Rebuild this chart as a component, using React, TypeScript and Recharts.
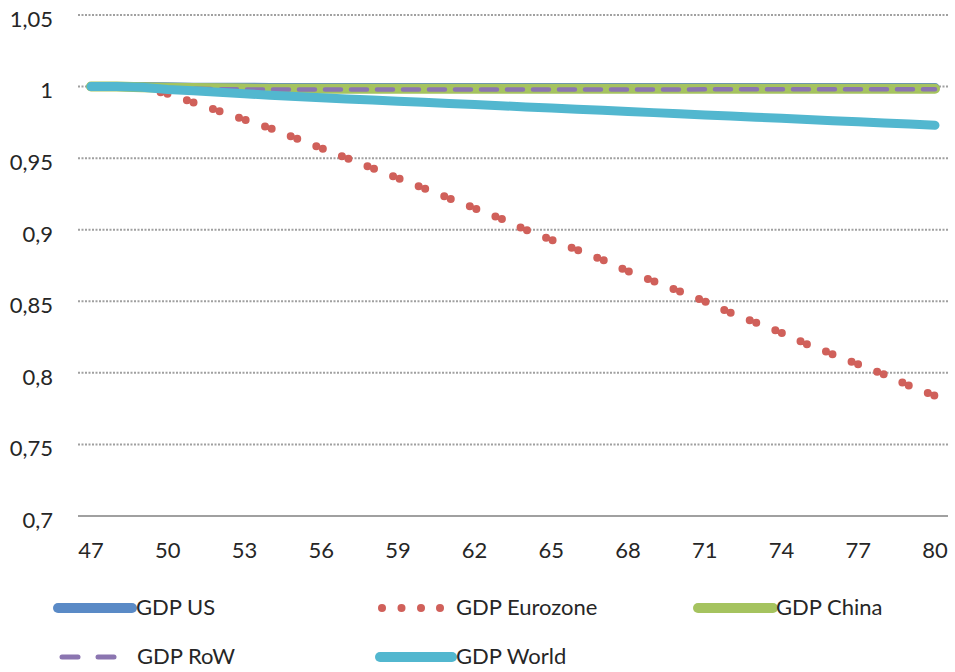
import { LineChart, Line, XAxis, YAxis, CartesianGrid } from 'recharts';

const FONT = 'Lato, "Open Sans", sans-serif';

const years = [
  47, 48, 49, 50, 51, 52, 53, 54, 55, 56, 57, 58, 59, 60, 61, 62, 63,
  64, 65, 66, 67, 68, 69, 70, 71, 72, 73, 74, 75, 76, 77, 78, 79, 80,
];

const gdpUS = [
  1, 1, 1, 0.9998, 0.9996, 0.9995, 0.9995, 0.9994, 0.9994, 0.9994, 0.9994, 0.9994,
  0.9994, 0.9994, 0.9994, 0.9994, 0.9994, 0.9994, 0.9994, 0.9994, 0.9994, 0.9994,
  0.9994, 0.9994, 0.9994, 0.9994, 0.9994, 0.9994, 0.9994, 0.9994, 0.9994, 0.9994,
  0.9994, 0.9994,
];

const gdpEurozone = [
  1, 1, 0.999, 0.995, 0.989, 0.983, 0.977, 0.971, 0.964, 0.957, 0.95, 0.943,
  0.936, 0.929, 0.922, 0.915, 0.908, 0.9, 0.893, 0.886, 0.879, 0.871, 0.864,
  0.857, 0.85, 0.842, 0.835, 0.828, 0.82, 0.813, 0.806, 0.799, 0.791, 0.784,
];

const gdpChina = [
  1, 1, 0.9995, 0.9992, 0.999, 0.9988, 0.9986, 0.9985, 0.9985, 0.9985, 0.9985,
  0.9985, 0.9985, 0.9985, 0.9985, 0.9985, 0.9985, 0.9985, 0.9985, 0.9985, 0.9985,
  0.9985, 0.9985, 0.9985, 0.9985, 0.9985, 0.9985, 0.9985, 0.9985, 0.9985, 0.9985,
  0.9985, 0.9985, 0.9985,
];

const gdpRoW = [
  1, 1, 0.9995, 0.999, 0.9985, 0.9982, 0.998, 0.998, 0.998, 0.998, 0.998, 0.998,
  0.998, 0.998, 0.998, 0.998, 0.998, 0.998, 0.998, 0.998, 0.998, 0.998, 0.998,
  0.998, 0.9981, 0.9981, 0.9981, 0.9981, 0.9982, 0.9982, 0.9982, 0.9982, 0.9982,
  0.9982,
];

const gdpWorld = [
  1, 1, 0.9995, 0.998, 0.997, 0.996, 0.995, 0.994, 0.993, 0.9922, 0.9914, 0.9906,
  0.9898, 0.989, 0.9882, 0.9874, 0.9866, 0.9858, 0.985, 0.9842, 0.9834, 0.9826,
  0.9818, 0.981, 0.9802, 0.9794, 0.9786, 0.9778, 0.977, 0.9762, 0.9754, 0.9746,
  0.9738, 0.973,
];

const yTicks = [0.7, 0.75, 0.8, 0.85, 0.9, 0.95, 1, 1.05];

const data = years.map((year, i) => ({
  year,
  us: gdpUS[i],
  eurozone: gdpEurozone[i],
  china: gdpChina[i],
  row: gdpRoW[i],
  world: gdpWorld[i],
}));

const fmt = (v: number) => String(Number(v.toFixed(2))).replace('.', ',');

const textStyle = { fontFamily: FONT, fontSize: 22, color: '#262626', lineHeight: '24px' };

function LineIcon({ color, w }: { color: string; w: number }) {
  return (
    <svg width={w} height={14} style={{ display: 'block' }}>
      <line x1={5} y1={7} x2={w - 5} y2={7} stroke={color} strokeWidth={10} strokeLinecap="round" />
    </svg>
  );
}

function DotsIcon() {
  return (
    <svg width={66} height={14} style={{ display: 'block' }}>
      {[4, 23.5, 43, 62].map((cx) => (
        <circle key={cx} cx={cx} cy={7} r={4} fill="#d0605a" />
      ))}
    </svg>
  );
}

function DashIcon() {
  return (
    <svg width={60} height={14} style={{ display: 'block' }}>
      <line x1={4} y1={7} x2={20} y2={7} stroke="#8b75b0" strokeWidth={5} strokeLinecap="round" />
      <line x1={40} y1={7} x2={56} y2={7} stroke="#8b75b0" strokeWidth={5} strokeLinecap="round" />
    </svg>
  );
}

function CustomLegend() {
  const item = (left: number, top: number, icon: React.ReactNode, label: string, textLeft: number) => (
    <div key={label}>
      <div style={{ position: 'absolute', left, top: top - 7 }}>{icon}</div>
      <div style={{ ...textStyle, position: 'absolute', left: textLeft, top: top - 13, whiteSpace: 'nowrap' }}>
        {label}
      </div>
    </div>
  );
  return (
    <div style={{ position: 'absolute', left: 0, top: 585, width: 955, height: 87 }}>
      {item(53, 23, <LineIcon color="#5a8ac6" w={84} />, 'GDP US', 136)}
      {item(378, 23, <DotsIcon />, 'GDP Eurozone', 456)}
      {item(693, 23, <LineIcon color="#a5c35f" w={85} />, 'GDP China', 776)}
      {item(58, 72, <DashIcon />, 'GDP RoW', 137)}
      {item(375, 72, <LineIcon color="#52b7cf" w={82} />, 'GDP World', 456)}
    </div>
  );
}

export default function App() {
  return (
    <div style={{ position: 'absolute', left: 0, top: 0, width: 955, height: 672, background: '#fff' }}>
      <LineChart width={955} height={672} data={data} margin={{ top: 15, right: 7, bottom: 76, left: 0 }}>
        <CartesianGrid vertical={false} stroke="#a0a0a0" strokeWidth={2} strokeDasharray="2 1.5" />
        <XAxis
          dataKey="year"
          interval={2}
          padding={{ left: 13, right: 13 }}
          axisLine={{ stroke: '#a0a0a0', strokeWidth: 2 }}
          tickLine={false}
          tickSize={0}
          tickMargin={26}
          height={80}
          tick={{ fill: '#262626', fontSize: 22, fontFamily: FONT }}
        />
        <YAxis
          domain={[0.7, 1.05]}
          ticks={yTicks}
          tickFormatter={fmt}
          axisLine={false}
          tickLine={false}
          tickSize={0}
          tickMargin={25}
          width={78}
          tick={{ fill: '#262626', fontSize: 22, fontFamily: FONT, dy: 4 }}
        />
        <Line type="linear" dataKey="us" stroke="#5a8ac6" strokeWidth={9} strokeLinecap="round" strokeLinejoin="round" dot={false} isAnimationActive={false} />
        <Line type="linear" dataKey="eurozone" stroke="#d0605a" strokeWidth={8} strokeLinecap="round" strokeDasharray="0 7 0 20.48" strokeDashoffset={12.3} dot={false} isAnimationActive={false} />
        <Line type="linear" dataKey="china" stroke="#a5c35f" strokeWidth={10} strokeLinecap="round" strokeLinejoin="round" dot={false} isAnimationActive={false} />
        <Line type="linear" dataKey="row" stroke="#8b75b0" strokeWidth={4.5} strokeLinecap="round" strokeDasharray="16 10" dot={false} isAnimationActive={false} />
        <Line type="linear" dataKey="world" stroke="#52b7cf" strokeWidth={9} strokeLinecap="round" strokeLinejoin="round" dot={false} isAnimationActive={false} />
      </LineChart>
      <CustomLegend />
    </div>
  );
}
